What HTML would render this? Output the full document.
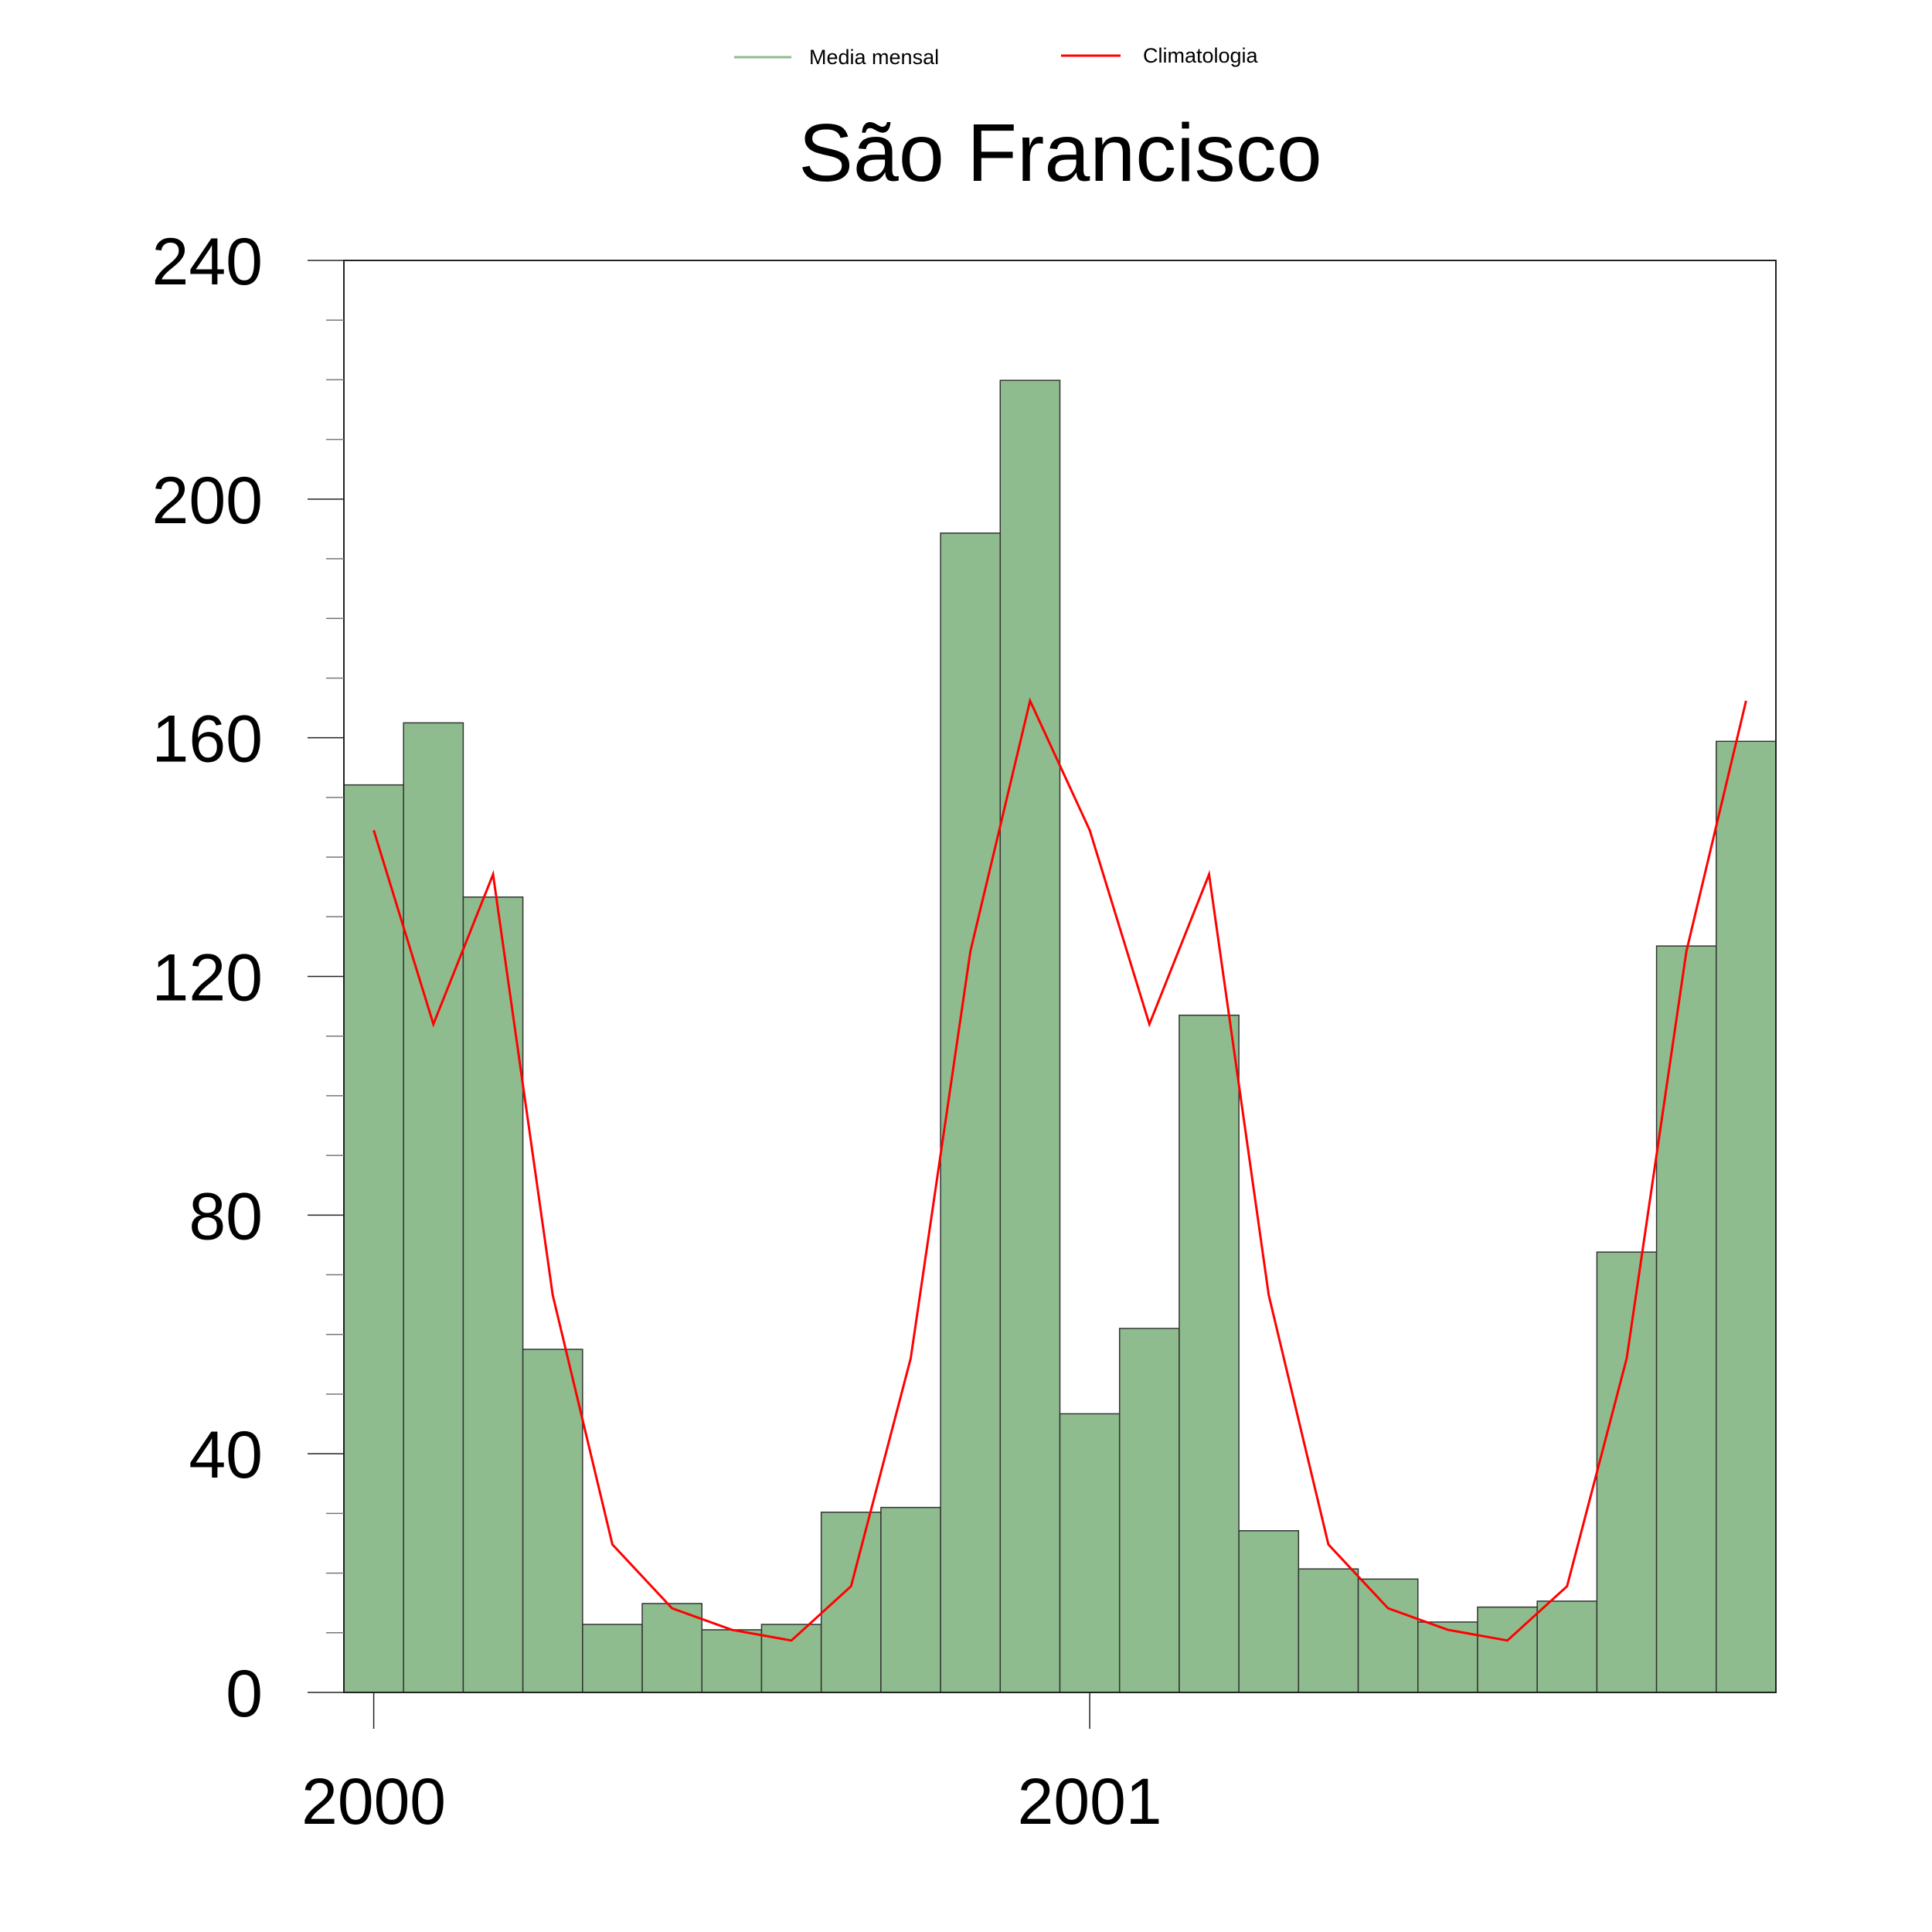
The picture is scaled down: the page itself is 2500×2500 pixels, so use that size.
<!DOCTYPE html>
<html><head><meta charset="utf-8"><style>
body{margin:0;background:#fff}
svg{display:block;font-family:"Liberation Sans",sans-serif}
</style></head><body>
<svg id="chart" width="2500" height="2500" viewBox="0 0 2500 2500">
<g id="legend">
<line x1="950" y1="74" x2="1024" y2="74" stroke="#8fbc8f" stroke-width="3"/>
<text x="1047" y="83" font-size="27">Media mensal</text>
<line x1="1373" y1="72" x2="1450" y2="72" stroke="#ff0000" stroke-width="3"/>
<text x="1479" y="81" font-size="27">Climatologia</text>
</g>
<text x="1372" y="234" font-size="106" text-anchor="middle">São Francisco</text>
<g id="bars"></g>
<g id="axes"></g>
<path id="clim" fill="none" stroke="#ff0000" stroke-width="3"/>
</svg>
<script>
const monthly = [152.1,162.5,133.3,57.5,11.4,14.9,10.5,11.4,30.2,31.0,194.3,219.9,46.7,61.0,113.5,27.1,20.7,19.0,11.8,14.3,15.3,73.8,125.1,159.4];
const climatology = [144.5,112.0,137.1,66.6,24.8,14.1,10.5,8.7,17.8,56.0,124.2,166.2,144.5,112.0,137.1,66.6,24.8,14.1,10.5,8.7,17.8,56.0,124.2,166.2];
const yTicks = [0,40,80,120,160,200,240];
const xTickLabels = ["2000","2001"];
const xTickIndex = [0,12];

const L=445,R=2298,T=337,B=2190,YMAX=240;
const n=monthly.length, bw=(R-L)/n;
const y=v=>B-(v/YMAX)*(B-T);
const xc=i=>L+bw*(i+0.5);
const NS="http://www.w3.org/2000/svg";
function mk(tag,attrs,parent){const e=document.createElementNS(NS,tag);for(const k in attrs)e.setAttribute(k,attrs[k]);parent.appendChild(e);return e;}
const bars=document.getElementById('bars'), axes=document.getElementById('axes');
monthly.forEach((v,i)=>{
  const r=mk('rect',{x:L+bw*i,y:y(v),width:bw,height:B-y(v),fill:'#8fbc8f',stroke:'#333','stroke-width':1.5},bars);
  
  
});
document.getElementById('clim').setAttribute('d',climatology.map((v,i)=>(i?'L':'M')+xc(i)+' '+y(v)).join(' '));
const f=mk('rect',{x:L,y:T,width:R-L,height:B-T,fill:'none',stroke:'#222','stroke-width':2},axes);


for(let v=0;v<=YMAX;v+=10){
  const major=v%40===0;
  const t=mk('line',{x1:major?398:422,x2:L,y1:y(v),y2:y(v),stroke:major?'#222':'#777','stroke-width':1.5},axes);
  
  
}
yTicks.forEach(v=>{
  const t=mk('text',{x:340,y:y(v)+31,'font-size':86,'text-anchor':'end'},axes);
  t.textContent=v;
  
  
});
xTickIndex.forEach((idx,k)=>{
  const l=mk('line',{x1:xc(idx),x2:xc(idx),y1:B,y2:2237,stroke:'#222','stroke-width':1.5},axes);
  
  
  const t=mk('text',{x:xc(idx),y:2360,'font-size':84,'text-anchor':'middle'},axes);
  t.textContent=xTickLabels[k];
  
  
});
</script>
</body></html>
